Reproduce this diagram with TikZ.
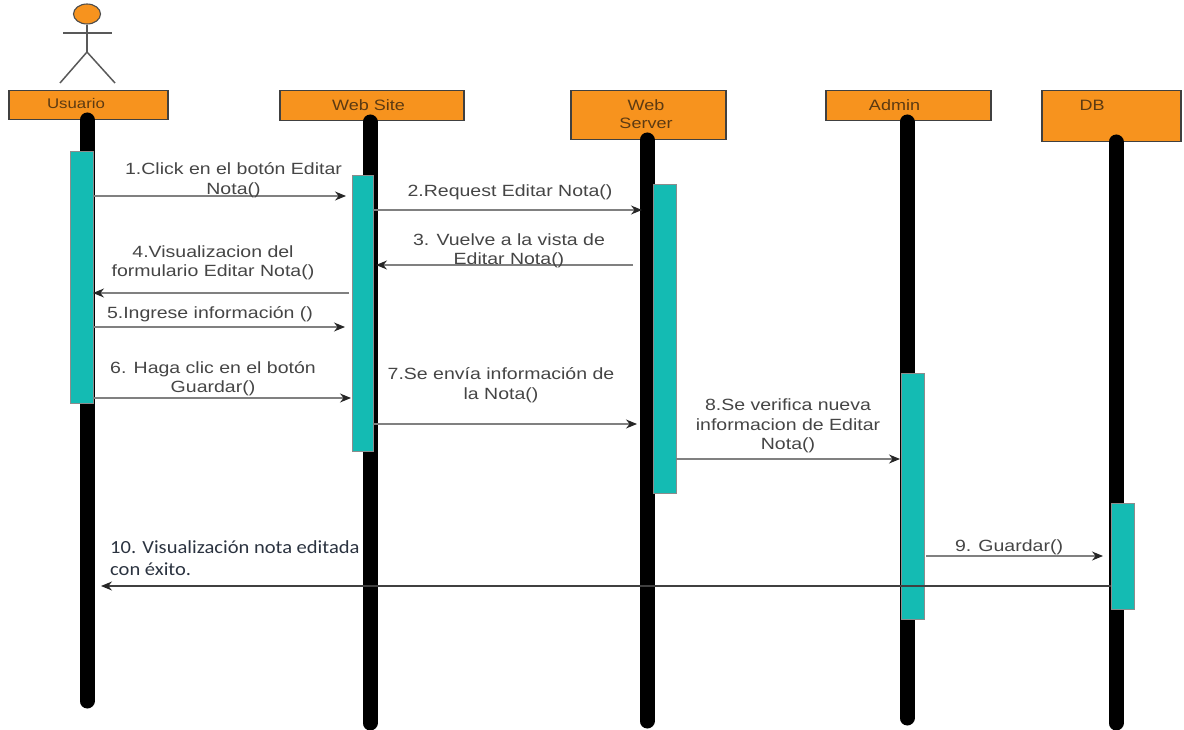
\documentclass[tikz,border=0pt]{standalone}
\usepackage{fontspec}
\setmainfont{Liberation Sans}
\newfontfamily\widefont[FakeStretch=1.2]{Liberation Sans}
\newfontfamily\calfont[FakeStretch=1.11]{Carlito}
\usetikzlibrary{arrows.meta,shapes.geometric}
\definecolor{orng}{HTML}{F7931E}
\definecolor{teal2}{HTML}{14BBB3}
\definecolor{txt}{HTML}{454545}
\definecolor{headink}{HTML}{5C3A12}
\definecolor{calink}{HTML}{2B3340}
\tikzset{
  x=1pt,y=-1pt,
  head/.style={draw=black!75,line width=1.5pt,fill=orng,minimum width=#1,anchor=north west,inner sep=0pt},
  headtxt/.style={text=headink,inner sep=0pt,align=center,font=\widefont\fontsize{15}{17}\selectfont},
  life/.style={line width=15pt,line cap=round,black},
  act/.style={draw=black!45,line width=.6pt,fill=teal2,anchor=north west,inner sep=0pt,minimum width=#1},
  msg/.style={draw=black!50,line width=1.1pt,-{Stealth[length=11pt,width=9pt,black!85]}},
  lbl/.style={align=center,text=txt,inner sep=0pt,font=\widefont\fontsize{16.25}{19.5}\selectfont},
  stick/.style={draw=black!65,line width=1.5pt}
}
\begin{document}
\begin{tikzpicture}
\useasboundingbox (0,0) rectangle (1184,730);
% actor
\node[draw=black!70,line width=1.1pt,fill=orng,ellipse,minimum width=27pt,minimum height=20pt,inner sep=0pt] (ahead) at (87,14) {};
\coordinate (hip) at (87,52);
\coordinate (armL) at (63,33);
\coordinate (armR) at (112,33);
\coordinate (legL) at (60,83);
\coordinate (legR) at (115,83);
\draw[stick] (ahead.south) -- (hip);
\draw[stick] (armL) -- (armR);
\draw[stick] (legL) -- (hip) -- (legR);
% headers
\node[head=159pt,minimum height=29pt] (h1) at (8,90) {};
\node[head=184pt,minimum height=30pt] (h2) at (279,90) {};
\node[head=155pt,minimum height=49pt] (h3) at (570,90) {};
\node[head=165pt,minimum height=30pt] (h4) at (825,90) {};
\node[head=139pt,minimum height=51pt] (h5) at (1041,90) {};
\node[headtxt,font=\widefont\fontsize{14}{16}\selectfont] (h1t) at (76,103) {Usuario};
\node[headtxt] (h2t) at (368.5,105) {Web Site};
\node[headtxt,font=\widefont\fontsize{15}{18}\selectfont] (h3t) at (646,114) {Web\\Server};
\node[headtxt] (h4t) at (894.5,105) {Admin};
\node[headtxt] (h5t) at (1092,105) {DB};
% lifelines
\coordinate (l1a) at (87,120); \coordinate (l1b) at (87,701);
\coordinate (l2a) at (370,122); \coordinate (l2b) at (370,723);
\coordinate (l3a) at (647,140); \coordinate (l3b) at (647,721);
\coordinate (l4a) at (907,122); \coordinate (l4b) at (907,718);
\coordinate (l5a) at (1116,142); \coordinate (l5b) at (1116,723);
\draw[life] (l1a) -- (l1b);
\draw[life] (l2a) -- (l2b);
\draw[life] (l3a) -- (l3b);
\draw[life] (l4a) -- (l4b);
\draw[life] (l5a) -- (l5b);
% activations
\node[act=23pt,minimum height=252pt] (a1) at (70,151) {};
\node[act=21pt,minimum height=276pt] (a2) at (352,175) {};
\node[act=23pt,minimum height=309pt] (a3) at (653,184) {};
\node[act=23pt,minimum height=246pt] (a4) at (901,373) {};
\node[act=23pt,minimum height=106pt] (a5) at (1111,503) {};
% message ends
\coordinate (m1a) at (93,196);  \coordinate (m1b) at (346,196);
\coordinate (m2a) at (373,210); \coordinate (m2b) at (642,210);
\coordinate (m3a) at (633,265); \coordinate (m3b) at (376,265);
\coordinate (m4a) at (349,293); \coordinate (m4b) at (93,293);
\coordinate (m5a) at (93,327);  \coordinate (m5b) at (345,327);
\coordinate (m6a) at (93,398);  \coordinate (m6b) at (351,398);
\coordinate (m7a) at (373,424); \coordinate (m7b) at (637,424);
\coordinate (m8a) at (676,459); \coordinate (m8b) at (900,459);
\coordinate (m9a) at (926,556); \coordinate (m9b) at (1103,556);
\coordinate (m10a) at (1111,586); \coordinate (m10b) at (101,586);
\draw[msg] (m1a) -- (m1b);
\draw[msg] (m2a) -- (m2b);
\draw[msg] (m3a) -- (m3b);
\draw[msg] (m4a) -- (m4b);
\draw[msg] (m5a) -- (m5b);
\draw[msg] (m6a) -- (m6b);
\draw[msg] (m7a) -- (m7b);
\draw[msg] (m8a) -- (m8b);
\draw[msg] (m9a) -- (m9b);
\draw[msg,draw=black!75,line width=1.4pt] (m10a) -- (m10b);
% labels
\node[lbl] (t1) at (233.5,180) {1.Click en el botón Editar\\Nota()};
\node[lbl] (t2) at (510,192) {2.Request Editar Nota()};
\node[lbl] (t3) at (509,251) {3. Vuelve a la vista de\\Editar Nota()};
\node[lbl] (t4) at (213,263) {4.Visualizacion del\\formulario Editar Nota()};
\node[lbl] (t5) at (210,314) {5.Ingrese información ()};
\node[lbl] (t6) at (213,378.5) {6. Haga clic en el botón\\Guardar()};
\node[lbl] (t7) at (501,385) {7.Se envía información de\\la Nota()};
\node[lbl] (t8) at (788,426) {8.Se verifica nueva\\informacion de Editar\\Nota()};
\node[lbl] (t9) at (1009,547) {9. Guardar()};
\node[lbl,align=left,anchor=north west,text=calink,font=\calfont\fontsize{18.5}{22}\selectfont] (t10) at (110,540) {10. Visualización nota editada\\con éxito.};
\end{tikzpicture}
\end{document}
